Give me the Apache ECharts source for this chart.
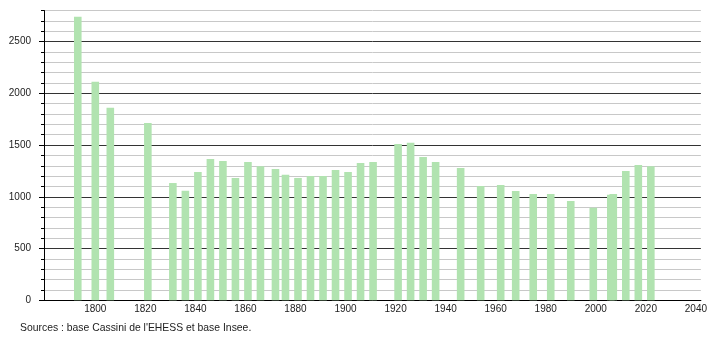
<!DOCTYPE html>
<html>
<head>
<meta charset="utf-8">
<script src="https://cdn.jsdelivr.net/npm/echarts@6/dist/echarts.min.js"></script>
<style>
html,body{margin:0;padding:0;background:#fff;}
#chart{width:710px;height:340px;}
</style>
</head>
<body>
<div id="chart"></div>
<script>
var years = [1793,1800,1806,1821,1831,1836,1841,1846,1851,1856,1861,1866,1872,1876,1881,1886,1891,1896,1901,1906,1911,1921,1926,1931,1936,1946,1954,1962,1968,1975,1982,1990,1999,2006,2007,2012,2017,2022];
var population = [2740,2112,1861,1713,1133,1059,1240,1365,1346,1182,1336,1295,1269,1214,1182,1201,1201,1259,1240,1327,1336,1510,1523,1385,1336,1278,1104,1114,1056,1027,1027,959,895,1020,1027,1249,1307,1295];
var xTickLabels = [1800,1820,1840,1860,1880,1900,1920,1940,1960,1980,2000,2020,2040];
var yTickLabels = [0,500,1000,1500,2000,2500];
var sourceText = "Sources : base Cassini de l'EHESS et base Insee.";

var data = years.map(function(y,i){return [y, population[i]];});
var chart = echarts.init(document.getElementById('chart'), null, {renderer:'canvas'});
var font = 'Liberation Sans, Arial, sans-serif';
function plain(v){ return String(v); }
chart.setOption({
  animation:false,
  backgroundColor:'#fff',
  grid:{left:44, right:9, top:10.5, bottom:39.7, containLabel:false},
  xAxis:{
    type:'value', min:1779.5, max:2042,
    axisLine:{show:true, onZero:false, lineStyle:{color:'#000', width:1}},
    axisTick:{show:false},
    splitLine:{show:false},
    axisLabel:{customValues:xTickLabels, formatter:plain, fontSize:10, color:'#222', margin:4, fontFamily:font}
  },
  yAxis:[{
    type:'value', min:0, max:2800, interval:100, position:'left',
    axisLine:{show:true, lineStyle:{color:'#000', width:1}},
    axisTick:{show:true, length:3, lineStyle:{color:'#000'}},
    splitLine:{show:true, lineStyle:{color:['#333','#c8c8c8','#c8c8c8','#c8c8c8','#c8c8c8'], width:1}},
    axisLabel:{customValues:yTickLabels, formatter:plain, fontSize:10, color:'#222', margin:13, fontFamily:font}
  },{
    type:'value', min:0, max:2800, position:'left',
    axisLine:{show:false},
    axisTick:{show:true, length:5, customValues:yTickLabels, lineStyle:{color:'#000'}},
    splitLine:{show:false},
    axisLabel:{show:false}
  }],
  series:[{
    type:'bar', data:data, barWidth:7.6, yAxisIndex:0,
    itemStyle:{color:'#b1e3b0'}
  }],
  graphic:[{
    type:'text', left:20, top:323,
    style:{text:sourceText, fontSize:10.4, fill:'#222', fontFamily:font}
  }]
});
</script>
</body>
</html>
